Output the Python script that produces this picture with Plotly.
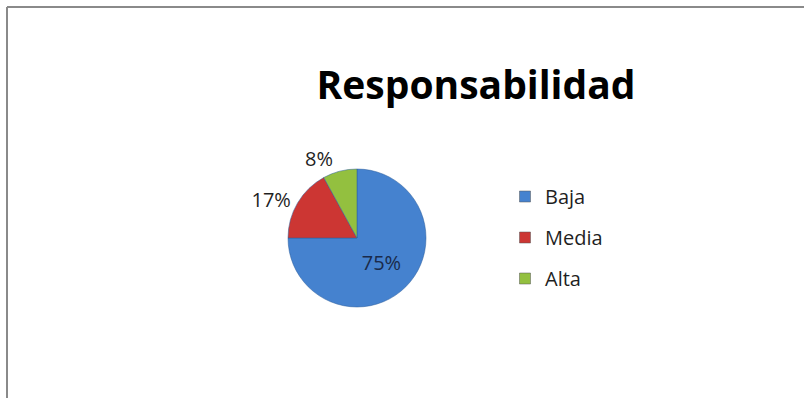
import plotly.graph_objects as go

labels = ["Baja", "Media", "Alta"]
values = [75, 17, 8]
colors = ["#4582CF", "#CC3633", "#93C03F"]

W, H = 804, 398
cx, cy, r = 357, 238, 69
FONT = "Open Sans, Lato, sans-serif"

fig = go.Figure()
fig.add_trace(go.Pie(
    labels=labels,
    values=values,
    sort=False,
    direction="clockwise",
    rotation=0,
    marker=dict(colors=colors, line=dict(color="#2A5C9A", width=0.5)),
    textinfo="percent",
    texttemplate="%{percent:.0%}",
    textposition=["inside", "outside", "outside"],
    insidetextorientation="horizontal",
    outsidetextfont=dict(family=FONT, size=20, color="#1F1F1F"),
    insidetextfont=dict(family=FONT, size=20, color="#1A2A4A"),
    domain=dict(x=[(cx - r) / W, (cx + r) / W], y=[1 - (cy + r) / H, 1 - (cy - r) / H]),
    showlegend=False,
))

# legend entries built from the same labels / colours
for i, (lab, col) in enumerate(zip(labels, colors)):
    fig.add_trace(go.Scatter(
        x=[None], y=[None], mode="markers", name=lab,
        marker=dict(symbol="square", size=11, color=col, line=dict(color="#555", width=0.5)),
        legendgroup=f"g{i}", showlegend=True,
    ))

fig.update_layout(
    width=W, height=H,
    margin=dict(l=0, r=0, t=0, b=0),
    paper_bgcolor="white",
    plot_bgcolor="white",
    xaxis=dict(visible=False),
    yaxis=dict(visible=False),
    title=dict(text="<b>Responsabilidad</b>", x=476 / W, y=1 - 85 / H,
               xanchor="center", yanchor="middle",
               font=dict(family=FONT, size=39, color="#000000")),
    legend=dict(x=505 / W, y=1 - 177 / H, xanchor="left", yanchor="top",
                font=dict(family=FONT, size=20, color="#1F1F1F"),
                itemwidth=30, tracegroupgap=12, bgcolor="rgba(0,0,0,0)"),
    shapes=[
        dict(type="line", xref="paper", yref="paper", x0=7 / W, x1=1, y0=1 - 7 / H, y1=1 - 7 / H,
             line=dict(color="#8A8A8A", width=2)),
        dict(type="line", xref="paper", yref="paper", x0=7 / W, x1=7 / W, y0=0, y1=1 - 7 / H,
             line=dict(color="#8A8A8A", width=2)),
    ],
)

fig.write_html("out.html")
